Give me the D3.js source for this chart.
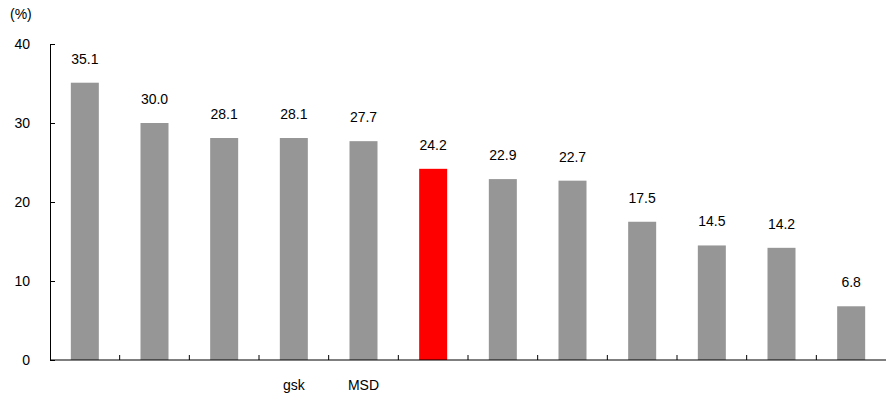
<!DOCTYPE html>
<html>
<head>
<meta charset="utf-8">
<script src="https://cdn.jsdelivr.net/npm/d3@7"></script>
<style>
body{margin:0;background:#fff;}
text{font-family:"Liberation Sans",Arial,sans-serif;}
</style>
</head>
<body>
<svg id="chart" width="886" height="401"></svg>
<script>
const categories = ["c1","c2","c3","gsk","MSD","c6","c7","c8","c9","c10","c11","c12"];
const categoryLabels = ["","","","gsk","MSD","","","","","","",""];
const values = [35.1,30.0,28.1,28.1,27.7,24.2,22.9,22.7,17.5,14.5,14.2,6.8];
const highlight = [false,false,false,false,false,true,false,false,false,false,false,false];
const yTicks = [0,10,20,30,40];

(function(){
const svg = d3.select("#chart");
const mLeft = 50, mRight = 886, mTop = 44, mBottom = 360;

const xb = d3.scaleBand().domain(categories).range([mLeft, mRight]);
const y = d3.scaleLinear().domain([0,40]).range([mBottom, mTop]);

// bars
svg.selectAll("rect.bar").data(values).enter().append("rect")
  .attr("x", (d,i)=> xb(categories[i]) + xb.bandwidth()/2 - 14)
  .attr("width", 28)
  .attr("y", d=>y(d))
  .attr("height", d=>mBottom - y(d))
  .attr("fill", (d,i)=> highlight[i] ? "#ff0000" : "#969696");

// value labels
svg.selectAll("text.val").data(values).enter().append("text")
  .attr("x", (d,i)=> xb(categories[i]) + xb.bandwidth()/2)
  .attr("y", d=> y(d) - 19)
  .attr("text-anchor","middle")
  .attr("font-size", 14)
  .attr("fill","#000")
  .text(d=>d.toFixed(1));

// y axis
const yAxis = d3.axisLeft(y).tickValues(yTicks).tickSizeInner(-5).tickSizeOuter(0).tickPadding(20);
const gy = svg.append("g").attr("transform",`translate(${mLeft},0)`).call(yAxis);
gy.select(".domain").attr("stroke","#000");
gy.selectAll(".tick line").attr("stroke","#000");
gy.selectAll(".tick text").attr("font-size",14).attr("font-family","Liberation Sans, Arial, sans-serif").attr("fill","#000");

// x axis
const gx = svg.append("g").attr("transform",`translate(0,${mBottom})`);
gx.append("line").attr("x1",mLeft).attr("x2",mRight).attr("y1",0).attr("y2",0).attr("stroke","#000").attr("stroke-width",1.2);
const bounds = categories.slice(1).map(c=>xb(c));
gx.selectAll("line.tk").data(bounds).enter().append("line")
  .attr("x1",d=>d).attr("x2",d=>d).attr("y1",0).attr("y2",-5).attr("stroke","#000");
gx.selectAll("text.cat").data(categoryLabels).enter().append("text")
  .attr("x",(d,i)=> xb(categories[i]) + xb.bandwidth()/2)
  .attr("y",30)
  .attr("text-anchor","middle")
  .attr("font-size",14)
  .attr("fill","#000")
  .text(d=>d);

// unit label
svg.append("text").attr("x",10).attr("y",19).attr("font-size",14).attr("fill","#000").text("(%)");
})();
</script>
</body>
</html>
